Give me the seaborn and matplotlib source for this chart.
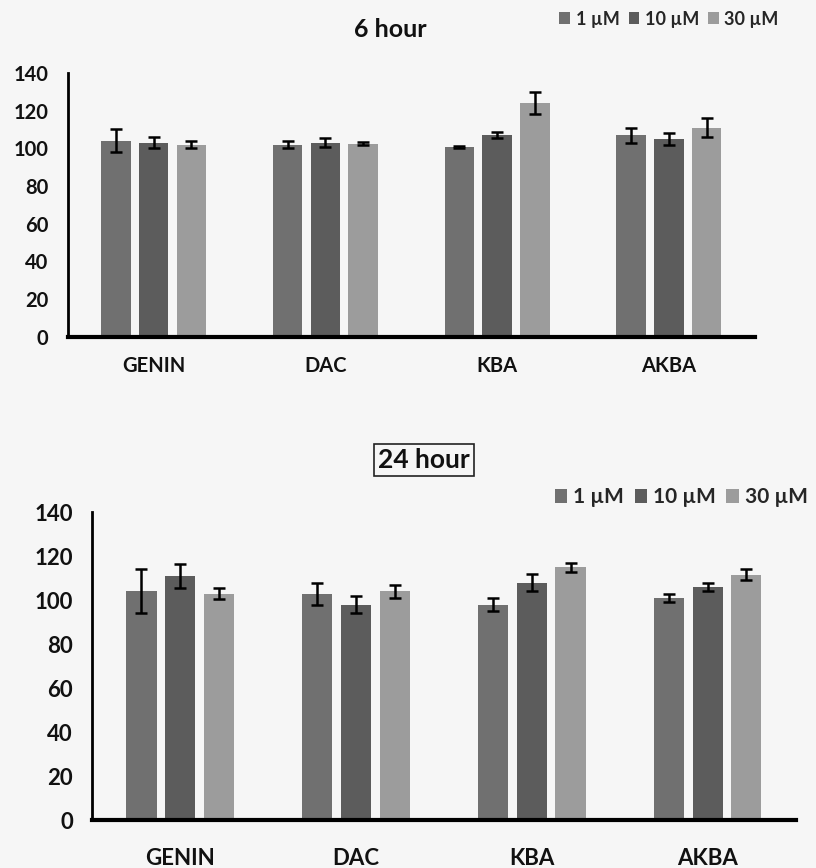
import matplotlib
matplotlib.use("Agg")
import matplotlib.pyplot as plt
import seaborn as sns
import pandas as pd
import numpy as np

compounds = ["GENIN", "DAC", "KBA", "AKBA"]
doses = ["1 µM", "10 µM", "30 µM"]

# 6 hour values (per compound: 1, 10, 30 µM)
h6_values = [[104, 103, 102], [102, 103, 102.5], [100.5, 107, 124], [107, 105, 111]]
h6_errors = [[6, 3, 2], [2, 2.5, 1], [0.6, 1.5, 6], [4, 3, 5]]
# 24 hour values
h24_values = [[104, 111, 103], [103, 98, 104], [98, 108, 115], [101, 106, 111.5]]
h24_errors = [[10, 5.5, 2.3], [5, 4, 3], [3, 4, 2], [2, 2, 2.5]]

yticks = [0, 20, 40, 60, 80, 100, 120, 140]
colors = ["#707070", "#5c5c5c", "#9c9c9c"]

sns.set_theme(style="white")
plt.rcParams['font.family'] = ['Lato', 'DejaVu Sans']

bg = "#f6f6f6"
fig = plt.figure(figsize=(8.16, 8.68), dpi=100, facecolor=bg)


def make_df(vals, errs):
    rows = []
    for c, vs, es in zip(compounds, vals, errs):
        for d, v, e in zip(doses, vs, es):
            rows.append({"compound": c, "dose": d, "value": v, "err": e})
    return pd.DataFrame(rows)


def panel(rect, vals, errs, title, title_xy, legend_xy, boxed, fs, tfs, lfs, xpad, ypad):
    ax = fig.add_axes(rect)
    ax.set_facecolor(bg)
    df = make_df(vals, errs)
    sns.barplot(data=df, x="compound", y="value", hue="dose", order=compounds,
                hue_order=doses, palette=colors, width=0.66, gap=0.22,
                errorbar=None, ax=ax, legend=False, linewidth=0)
    for hi, d in enumerate(doses):
        cont = ax.containers[hi]
        xs = [p.get_x() + p.get_width() / 2 for p in cont.patches]
        sub = df[df.dose == d].set_index("compound").loc[compounds]
        ax.errorbar(xs, sub["value"], yerr=sub["err"], fmt="none",
                    ecolor="black", elinewidth=1.8, capsize=4, capthick=1.8)
    ax.set_ylim(0, 140)
    ax.set_xlim(-0.5, 3.5)
    ax.set_yticks(yticks)
    ax.set_xlabel("")
    ax.set_ylabel("")
    for s in ["top", "right"]:
        ax.spines[s].set_visible(False)
    ax.spines["left"].set_linewidth(2)
    ax.spines["bottom"].set_linewidth(3)
    ax.spines["left"].set_color("black")
    ax.spines["bottom"].set_color("black")
    ax.tick_params(axis="both", length=0, labelsize=fs, colors="#111111")
    ax.tick_params(axis="x", pad=xpad)
    ax.tick_params(axis="y", pad=ypad)
    for lab in ax.get_xticklabels() + ax.get_yticklabels():
        lab.set_fontweight("bold")
    t = fig.text(title_xy[0], title_xy[1], title, ha="center", va="center",
                 fontsize=tfs, fontweight="bold", color="#111111")
    if boxed:
        t.set_bbox(dict(facecolor="none", edgecolor="#222222", linewidth=1.2, pad=3))
    handles = [plt.Rectangle((0, 0), 1, 1, facecolor=c, edgecolor="none") for c in colors]
    fig.legend(handles, doses, loc="center", bbox_to_anchor=legend_xy, ncol=3,
               frameon=False, handlelength=0.6, handleheight=0.6, handletextpad=0.3,
               columnspacing=0.5, prop={"size": lfs, "weight": "bold"})
    return ax


panel([0.083, 0.612, 0.842, 0.304], h6_values, h6_errors, "6 hour",
      (0.478, 0.966), (0.82, 0.978), False, 14.5, 18, 13, 14, 14)
panel([0.113, 0.055, 0.862, 0.355], h24_values, h24_errors, "24 hour",
      (0.52, 0.470), (0.835, 0.427), True, 16, 19, 15, 20, 14)

fig.savefig("out.png", dpi=100, facecolor=bg)
